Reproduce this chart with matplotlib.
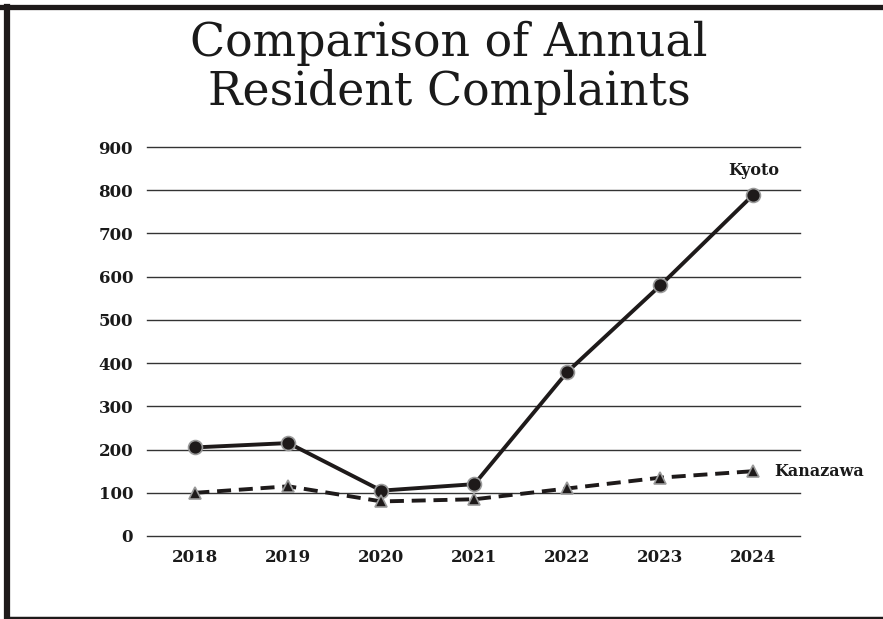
import matplotlib
matplotlib.use("Agg")
import matplotlib.pyplot as plt
from matplotlib.lines import Line2D

years = [2018, 2019, 2020, 2021, 2022, 2023, 2024]
kyoto = [205, 215, 105, 120, 380, 580, 790]
kanazawa = [100, 115, 80, 85, 110, 135, 150]
yticks = [0, 100, 200, 300, 400, 500, 600, 700, 800, 900]
title = "Comparison of Annual\nResident Complaints"

W, H = 883, 619
fig = plt.figure(figsize=(W / 100, H / 100), dpi=100)
fig.patch.set_facecolor("white")
ax = fig.add_axes([147 / W, 1 - 536 / H, (800 - 147) / W, (536 - 147) / H])

serif = "DejaVu Serif"

ax.plot(years, kyoto, color="#1e1a1a", lw=2.8, marker="o", markersize=10,
        markerfacecolor="#1e1a1a", markeredgecolor="#9a9a9a", markeredgewidth=1.2,
        zorder=4, solid_capstyle="round")
ax.plot(years, kanazawa, color="#1e1a1a", lw=2.8, ls=(0, (3.6, 2.0)), marker="^",
        markersize=9, markerfacecolor="#1e1a1a", markeredgecolor="#9a9a9a",
        markeredgewidth=1.2, zorder=4)

ax.set_xlim(2017.48, 2024.5)
ax.set_ylim(0, 900)
ax.set_yticks(yticks)
ax.set_xticks(years)
ax.grid(axis="y", color="#333333", lw=1.0)
ax.grid(axis="x", visible=False)
ax.set_axisbelow(True)
for gl in ax.get_ygridlines():
    gl.set_clip_on(False)
for s in ax.spines.values():
    s.set_visible(False)
ax.tick_params(axis="y", length=0, pad=10)
ax.tick_params(axis="x", length=0, pad=9)
for lab in ax.get_xticklabels() + ax.get_yticklabels():
    lab.set_fontfamily(serif)
    lab.set_fontsize(12)
    lab.set_fontweight("bold")
    lab.set_color("#1a1a1a")

ax.annotate("Kyoto", xy=(years[-1], kyoto[-1]), xytext=(0, 17), textcoords="offset points",
            ha="center", va="center", fontsize=11.5, fontweight="bold", family=serif,
            color="#1a1a1a", annotation_clip=False)
ax.annotate("Kanazawa", xy=(years[-1], kanazawa[-1]), xytext=(15, 0), textcoords="offset points",
            ha="left", va="center", fontsize=11.5, fontweight="bold", family=serif,
            color="#1a1a1a", annotation_clip=False)

fig.text(449 / W, 1 - 68 / H, title, ha="center", va="center", fontsize=33,
         family=serif, color="#1a1a1a", linespacing=1.08)

# frame
fig.add_artist(Line2D([0, 1], [1 - 6.5 / H, 1 - 6.5 / H], transform=fig.transFigure,
                      color="#1e1a1a", lw=3.8))
fig.add_artist(Line2D([7 / W, 7 / W], [1 - 6.5 / H, 1 - 617.5 / H], transform=fig.transFigure,
                      color="#1e1a1a", lw=4.5))
fig.add_artist(Line2D([7 / W, 1], [1 - 617.5 / H, 1 - 617.5 / H], transform=fig.transFigure,
                      color="#1e1a1a", lw=2.5))

fig.savefig("out.png", dpi=100)
